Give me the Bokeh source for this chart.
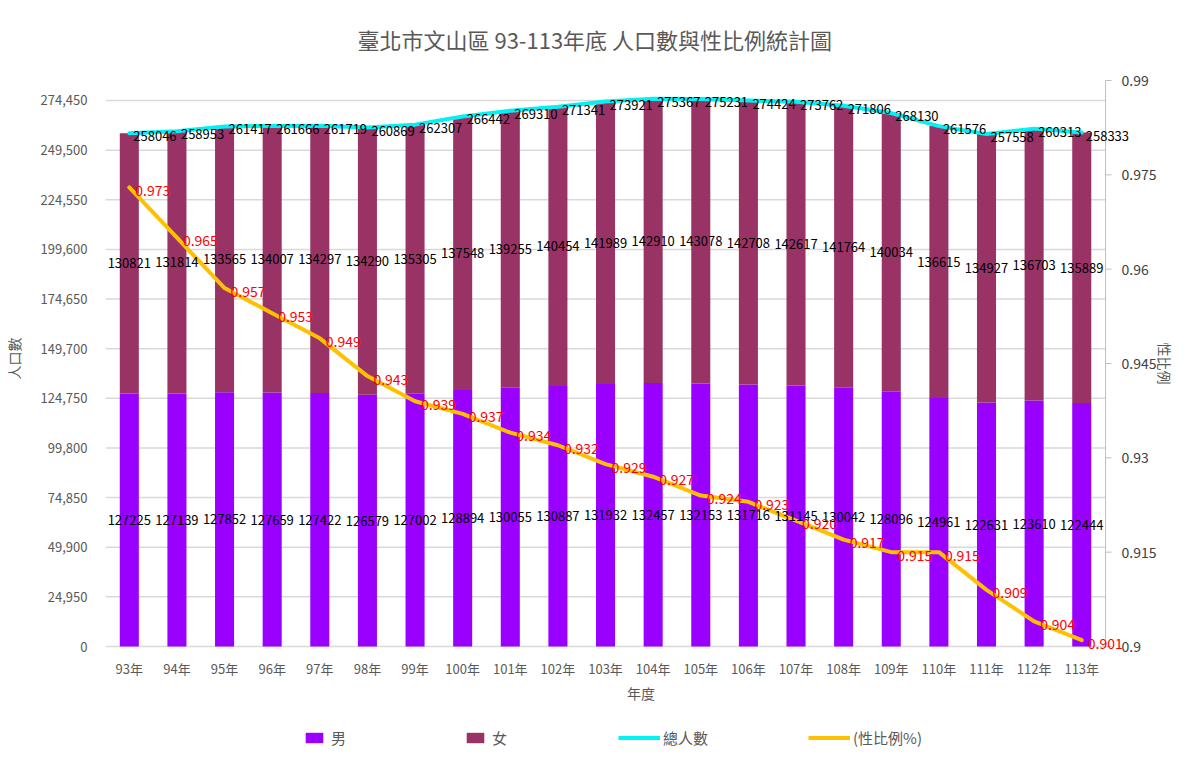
import math
from bokeh.plotting import figure
from bokeh.layouts import column
from bokeh.models import (ColumnDataSource, Range1d, FixedTicker, NumeralTickFormatter,
                          LabelSet, Legend, LegendItem)
from bokeh.core.properties import value
from bokeh.embed import file_html
from bokeh.resources import INLINE

years = ["93年", "94年", "95年", "96年", "97年", "98年", "99年", "100年", "101年", "102年", "103年",
         "104年", "105年", "106年", "107年", "108年", "109年", "110年", "111年", "112年", "113年"]
male = [127225, 127139, 127852, 127659, 127422, 126579, 127002, 128894, 130055, 130887, 131932,
        132457, 132153, 131716, 131145, 130042, 128096, 124961, 122631, 123610, 122444]
female = [130821, 131814, 133565, 134007, 134297, 134290, 135305, 137548, 139255, 140454, 141989,
          142910, 143078, 142708, 142617, 141764, 140034, 136615, 134927, 136703, 135889]
total = [258046, 258953, 261417, 261666, 261719, 260869, 262307, 266442, 269310, 271341, 273921,
         275367, 275231, 274424, 273762, 271806, 268130, 261576, 257558, 260313, 258333]
ratio = [0.973, 0.965, 0.957, 0.953, 0.949, 0.943, 0.939, 0.937, 0.934, 0.932, 0.929,
         0.927, 0.924, 0.923, 0.920, 0.917, 0.915, 0.915, 0.909, 0.904, 0.901]
left_ticks = [0, 24950, 49900, 74850, 99800, 124750, 149700, 174650, 199600, 224550, 249500, 274450]
right_ticks = [0.9, 0.915, 0.93, 0.945, 0.96, 0.975, 0.99]
right_tick_labels = ["0.9", "0.915", "0.93", "0.945", "0.96", "0.975", "0.99"]
left_max = 284500
ratio_min, ratio_max = 0.9, 0.99

TITLE = "臺北市文山區 93-113年底 人口數與性比例統計圖"
CJK = "Noto Sans CJK TC"
GRAY = "#595959"
C_MALE, C_FEMALE, C_TOTAL, C_RATIO = "#9900FF", "#993366", "#00F2F2", "#FFC000"

# ---- layout (pixels) ----
W, H_MAIN, H_LEG = 1176, 726, 22
LEFT, TOP = 104, 60
PLOT_W, PLOT_H = 1001, 566          # area covered by the value axes
PAD_TOP, PAD_BOT, PAD_RIGHT = 20, 10, W - LEFT - 1001

n = len(years)
xi = list(range(n))
cat_px = PLOT_W / n
x0, x1 = -0.5, n - 0.5
x_end = x1 + PAD_RIGHT / cat_px
lu = left_max / PLOT_H
ru = (ratio_max - ratio_min) / PLOT_H

src = ColumnDataSource(dict(
    x=xi, male=male, female=female, total=total, ratio=ratio,
    male_mid=[m / 2 for m in male],
    female_mid=[m + f / 2 for m, f in zip(male, female)],
    male_txt=[str(v) for v in male],
    female_txt=[str(v) for v in female],
    total_txt=[str(v) for v in total],
    ratio_txt=["%.3f" % v for v in ratio],
))

p = figure(x_range=Range1d(x0, x_end), y_range=Range1d(-PAD_BOT * lu, left_max + PAD_TOP * lu),
           width=W, height=H_MAIN, output_backend="svg", toolbar_location=None,
           title=TITLE, min_border_left=LEFT, min_border_right=0,
           min_border_top=TOP, min_border_bottom=H_MAIN - TOP - PLOT_H - PAD_TOP - PAD_BOT)
p.extra_y_ranges = {"ratio": Range1d(ratio_min - PAD_BOT * ru, ratio_max + PAD_TOP * ru)}
p.outline_line_color = None
p.background_fill_color = "white"
p.border_fill_color = "white"
p.xgrid.grid_line_color = None
p.ygrid.grid_line_color = None

p.title.align = "left"
p.title.offset = 252
p.title.text_font = CJK
p.title.text_font_size = "22px"
p.title.text_font_style = "normal"
p.title.text_color = GRAY
p.title.standoff = 12

# horizontal gridlines (stop at the right value axis)
p.segment(x0=[x0] * len(left_ticks), x1=[x1] * len(left_ticks), y0=left_ticks, y1=left_ticks,
          line_color="#D9D9D9", line_width=1.5)

bars = p.vbar_stack(["male", "female"], x="x", width=0.4, source=src,
                    color=[C_MALE, C_FEMALE], line_color=None)
tl = p.line("x", "total", source=src, line_color=C_TOTAL, line_width=4, line_join="round",
            line_cap="round")
rl = p.line("x", "ratio", source=src, line_color=C_RATIO, line_width=4, line_join="round",
            line_cap="round", y_range_name="ratio")

lab_kw = dict(text_font=value(CJK), text_font_size=value("13px"), text_color="#000000", source=src)
p.add_layout(LabelSet(x="x", y="male_mid", text="male_txt", text_align="center",
                      text_baseline="middle", **lab_kw))
p.add_layout(LabelSet(x="x", y="female_mid", text="female_txt", text_align="center",
                      text_baseline="middle", **lab_kw))
p.add_layout(LabelSet(x="x", y="total", text="total_txt", text_align="left",
                      text_baseline="middle", x_offset=4, y_offset=-3, **lab_kw))
p.add_layout(LabelSet(x="x", y="ratio", text="ratio_txt", text_align="left",
                      text_baseline="middle", x_offset=6, y_offset=-3, y_range_name="ratio",
                      text_font=value(CJK), text_font_size=value("14px"), text_color="#FF0000",
                      source=src))

# left axis
p.yaxis.ticker = FixedTicker(ticks=left_ticks)
p.yaxis.formatter = NumeralTickFormatter(format="0,0")
p.yaxis.axis_line_color = None
p.yaxis.major_tick_line_color = None
p.yaxis.minor_tick_line_color = None
p.yaxis.major_tick_out = 0
p.yaxis.major_label_standoff = 18
p.yaxis.major_label_text_font = CJK
p.yaxis.major_label_text_font_size = "13px"
p.yaxis.major_label_text_color = GRAY
p.yaxis.axis_label = "人口數"
p.yaxis.axis_label_text_font = CJK
p.yaxis.axis_label_text_font_size = "14px"
p.yaxis.axis_label_text_font_style = "normal"
p.yaxis.axis_label_text_color = GRAY
p.yaxis.axis_label_standoff = 14

# bottom axis
p.xaxis.ticker = FixedTicker(ticks=xi)
p.xaxis.major_label_overrides = {i: y for i, y in zip(xi, years)}
p.xaxis.axis_line_color = None
p.xaxis.major_tick_line_color = None
p.xaxis.minor_tick_line_color = None
p.xaxis.major_tick_out = 0
p.xaxis.major_label_standoff = 2
p.xaxis.major_label_text_font = CJK
p.xaxis.major_label_text_font_size = "13px"
p.xaxis.major_label_text_color = GRAY
p.xaxis.axis_label = "年度"
p.xaxis.axis_label_text_font = CJK
p.xaxis.axis_label_text_font_size = "14px"
p.xaxis.axis_label_text_font_style = "normal"
p.xaxis.axis_label_text_color = GRAY
p.xaxis.axis_label_standoff = 2

# right value axis (drawn inside the extended frame)
AX = "#BFBFBF"
p.segment(x0=[x1], x1=[x1], y0=[ratio_min], y1=[ratio_max], line_color=AX, line_width=1,
          y_range_name="ratio")
p.segment(x0=[x1] * len(right_ticks), x1=[x1 + 6 / cat_px] * len(right_ticks),
          y0=right_ticks, y1=right_ticks, line_color=AX, line_width=1, y_range_name="ratio")
p.text(x=[x1] * len(right_ticks), y=right_ticks, text=right_tick_labels, x_offset=16,
       text_baseline="middle", text_align="left", text_font=value(CJK),
       text_font_size="14px", text_color="#404040", y_range_name="ratio")
p.text(x=[x_end], y=[(ratio_min + ratio_max) / 2], text=["性比例"], angle=-math.pi / 2,
       x_offset=-12, text_align="center", text_baseline="middle", text_font=value(CJK),
       text_font_size="14px", text_color=GRAY, y_range_name="ratio")

# legend strip (its keys are drawn from styled, off-screen stand-in glyphs)
leg = figure(width=W, height=H_LEG, x_range=Range1d(0, 1), y_range=Range1d(0, 1),
             output_backend="svg", toolbar_location=None, x_axis_type=None, y_axis_type=None,
             min_border=0)
leg.outline_line_color = None
leg.xgrid.grid_line_color = None
leg.ygrid.grid_line_color = None
g1 = leg.vbar(x=[-5], top=[0], width=0.1, color=C_MALE, line_color=None)
g2 = leg.vbar(x=[-5], top=[0], width=0.1, color=C_FEMALE, line_color=None)
g3 = leg.line(x=[-5, -4], y=[0, 0], line_color=C_TOTAL, line_width=4)
g4 = leg.line(x=[-5, -4], y=[0, 0], line_color=C_RATIO, line_width=4)
leg_style = dict(orientation="horizontal", label_text_font=CJK, label_text_font_size="15px",
                 label_text_color=GRAY, label_height=20, border_line_color=None,
                 background_fill_alpha=0, padding=1, margin=0)
leg.add_layout(Legend(items=[LegendItem(label="男", renderers=[g1]),
                             LegendItem(label="女", renderers=[g2])],
                      location=(198, 0), spacing=113, glyph_width=22, glyph_height=13,
                      label_standoff=6, **leg_style), "center")
leg.add_layout(Legend(items=[LegendItem(label="總人數", renderers=[g3]),
                             LegendItem(label="(性比例%)", renderers=[g4])],
                      location=(513, 0), spacing=100, glyph_width=42, glyph_height=13,
                      label_standoff=3, **leg_style), "center")

open("out.html", "w").write(file_html(column(p, leg, spacing=0), INLINE))
